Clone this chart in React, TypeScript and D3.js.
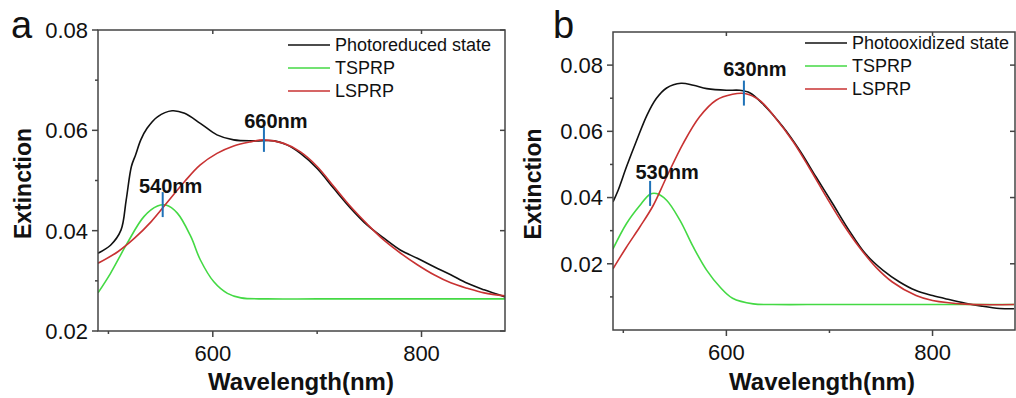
import React from "react";
import * as d3 from "d3";

// ---------- Panel a data ----------
const aBlackWl = [490, 502, 512, 517, 522, 526, 531, 537, 547, 561, 573, 588, 604, 620, 640, 659, 671, 684, 700, 716, 732, 748, 764, 780, 796, 812, 828, 844, 860, 880];
const aBlackVal = [0.0355, 0.0371, 0.0401, 0.0461, 0.0528, 0.0551, 0.0581, 0.0604, 0.0627, 0.0639, 0.0634, 0.0614, 0.0591, 0.0581, 0.0579, 0.0579, 0.0571, 0.0554, 0.0524, 0.0484, 0.0445, 0.0411, 0.0385, 0.0361, 0.0345, 0.0328, 0.0312, 0.0295, 0.0282, 0.0268];
const aRedWl = [490, 509, 525, 541, 557, 573, 588, 604, 620, 636, 649, 668, 684, 700, 716, 732, 748, 764, 780, 796, 812, 828, 844, 860, 880];
const aRedVal = [0.0335, 0.0358, 0.0385, 0.0418, 0.0458, 0.0498, 0.0531, 0.0554, 0.0569, 0.0577, 0.0581, 0.0574, 0.0557, 0.0528, 0.0488, 0.0448, 0.0413, 0.0381, 0.0355, 0.0332, 0.0312, 0.0296, 0.0285, 0.0276, 0.027];
const aGreenWl = [490, 502, 518, 534, 547, 555, 566, 579, 588, 601, 614, 627, 652, 700, 800, 880];
const aGreenVal = [0.0276, 0.0315, 0.0375, 0.0428, 0.0449, 0.0451, 0.0435, 0.0388, 0.0342, 0.0298, 0.0275, 0.0266, 0.0264, 0.0264, 0.0264, 0.0264];
const aYTicks = [0.02, 0.04, 0.06, 0.08];
const aYMinor = [0.03, 0.05, 0.07];
const aPeaks = [
  { wl: 552, val: 0.0451, label: "540nm" },
  { wl: 649, val: 0.0581, label: "660nm" },
];
const aLegend = ["Photoreduced state", "TSPRP", "LSPRP"];

// ---------- Panel b data ----------
const bBlackWl = [490, 495, 503, 513, 523, 532, 542, 556, 568, 581, 600, 613, 623, 635, 655, 671, 687, 703, 719, 735, 752, 768, 784, 800, 816, 832, 848, 865, 879];
const bBlackVal = [0.0387, 0.0422, 0.0492, 0.0573, 0.0649, 0.0699, 0.0731, 0.0745, 0.0739, 0.0729, 0.0724, 0.0724, 0.0716, 0.0684, 0.0613, 0.0543, 0.0462, 0.0382, 0.0301, 0.023, 0.018, 0.0145, 0.0119, 0.0104, 0.0092, 0.0081, 0.0072, 0.0065, 0.0064];
const bRedWl = [490, 503, 516, 529, 542, 558, 574, 590, 606, 618, 632, 648, 665, 681, 697, 713, 729, 745, 761, 784, 800, 832, 879];
const bRedVal = [0.0185, 0.025, 0.0311, 0.0376, 0.0462, 0.0563, 0.0644, 0.0694, 0.0712, 0.0714, 0.0694, 0.0639, 0.0568, 0.0487, 0.0402, 0.0321, 0.025, 0.019, 0.0145, 0.0104, 0.0089, 0.0078, 0.0077];
const bGreenWl = [490, 503, 516, 526, 532, 542, 555, 568, 581, 594, 606, 626, 645, 700, 800, 879];
const bGreenVal = [0.0245, 0.0321, 0.0376, 0.041, 0.0412, 0.0392, 0.0331, 0.025, 0.018, 0.0129, 0.0096, 0.0079, 0.0077, 0.0077, 0.0077, 0.0077];
const bYTicks = [0.02, 0.04, 0.06, 0.08];
const bYMinor = [0.01, 0.03, 0.05, 0.07];
const bPeaks = [
  { wl: 526, val: 0.0411, label: "530nm" },
  { wl: 617, val: 0.0714, label: "630nm" },
];
const bLegend = ["Photooxidized state", "TSPRP", "LSPRP"];

const xMajor = [600, 800];
const xMinor = [500, 700];

const BLACK = "#111";
const GREEN = "#44d944";
const RED = "#c83232";
const BLUE = "#1f72b8";
const AXIS = "#444";
const FONT = "'Liberation Sans', Arial, sans-serif";

type Peak = { wl: number; val: number; label: string };
type PanelProps = {
  left: number; right: number; top: number; bottom: number;
  yDomain: [number, number];
  yTicks: number[]; yMinor: number[];
  series: { wl: number[]; val: number[]; color: string }[];
  peaks: Peak[];
  peakLabelDy: number[];
  peakLabelDx: number[];
  legend: string[];
  legendX: number; legendY: number;
  letter: string; letterX: number;
  yTitleX: number; xTitleX: number;
};

function Panel(p: PanelProps) {
  const x = d3.scaleLinear().domain([490, 880]).range([p.left, p.right]);
  const y = d3.scaleLinear().domain(p.yDomain).range([p.bottom, p.top]);
  const line = d3
    .line<[number, number]>()
    .x((d) => x(d[0]))
    .y((d) => y(d[1]))
    .curve(d3.curveCatmullRom.alpha(0.5));
  const colors = [BLACK, GREEN, RED];
  const clipId = "clip" + p.letter;
  return (
    <g fontFamily={FONT}>
      <defs>
        <clipPath id={clipId}>
          <rect x={p.left} y={p.top} width={p.right - p.left} height={p.bottom - p.top} />
        </clipPath>
      </defs>
      <g clipPath={`url(#${clipId})`}>
        {p.series.map((s, i) => (
          <path
            key={i}
            d={line(s.wl.map((w, j) => [w, s.val[j]] as [number, number])) || ""}
            fill="none"
            stroke={s.color}
            strokeWidth={1.6}
          />
        ))}
      </g>
      {/* peak markers */}
      {p.peaks.map((pk, i) => (
        <g key={i}>
          <line x1={x(pk.wl)} x2={x(pk.wl)} y1={y(pk.val) - 13} y2={y(pk.val) + 12} stroke={BLUE} strokeWidth={2} />
          <text
            x={x(pk.wl) + p.peakLabelDx[i]}
            y={y(pk.val) + p.peakLabelDy[i]}
            textAnchor="middle"
            fontWeight="bold"
            fontSize={20}
            fill="#111"
          >
            {pk.label}
          </text>
        </g>
      ))}
      {/* frame */}
      <rect x={p.left} y={p.top} width={p.right - p.left} height={p.bottom - p.top} fill="none" stroke={AXIS} strokeWidth={1.5} />
      {/* y ticks */}
      {p.yTicks.map((t) => (
        <g key={"y" + t}>
          <line x1={p.left - 6} x2={p.left} y1={y(t)} y2={y(t)} stroke={AXIS} strokeWidth={1.5} />
          <line x1={p.right - 5} x2={p.right} y1={y(t)} y2={y(t)} stroke={AXIS} strokeWidth={1.5} />
          <text x={p.left - 10} y={y(t)} dy="0.36em" textAnchor="end" fontSize={22} fill="#111">
            {d3.format(".2f")(t)}
          </text>
        </g>
      ))}
      {p.yMinor.map((t) => (
        <line key={"ym" + t} x1={p.left - 3} x2={p.left} y1={y(t)} y2={y(t)} stroke={AXIS} strokeWidth={1.5} />
      ))}
      {/* x ticks */}
      {xMajor.map((t) => (
        <g key={"x" + t}>
          <line x1={x(t)} x2={x(t)} y1={p.bottom} y2={p.bottom + 6} stroke={AXIS} strokeWidth={1.5} />
          <line x1={x(t)} x2={x(t)} y1={p.top} y2={p.top + 4} stroke={AXIS} strokeWidth={1.5} />
          <text x={x(t)} y={p.bottom + 30} textAnchor="middle" fontSize={22} fill="#111">
            {t}
          </text>
        </g>
      ))}
      {xMinor.map((t) => (
        <line key={"xm" + t} x1={x(t)} x2={x(t)} y1={p.bottom} y2={p.bottom + 3} stroke={AXIS} strokeWidth={1.5} />
      ))}
      {/* titles */}
      <text
        transform={`translate(${p.yTitleX},${(p.top + p.bottom) / 2 + 3}) rotate(-90)`}
        textAnchor="middle"
        fontWeight="bold"
        fontSize={23}
        fill="#111"
      >
        Extinction
      </text>
      <text x={p.xTitleX} y={390} textAnchor="middle" fontWeight="bold" fontSize={24} fill="#111">
        Wavelength(nm)
      </text>
      <text x={p.letterX} y={38} fontSize={38} fill="#111">
        {p.letter}
      </text>
      {/* legend */}
      {p.legend.map((l, i) => (
        <g key={l}>
          <line x1={p.legendX} x2={p.legendX + 42} y1={p.legendY + i * 23} y2={p.legendY + i * 23} stroke={colors[i]} strokeWidth={1.6} />
          <text x={p.legendX + 47} y={p.legendY + i * 23} dy="0.36em" fontSize={18} fill="#111">
            {l}
          </text>
        </g>
      ))}
    </g>
  );
}

export default function App() {
  return (
    <svg
      width={1016}
      height={398}
      style={{ position: "absolute", left: 0, top: 0, background: "#fff" }}
    >
      <rect width={1016} height={398} fill="#fff" />
      <Panel
        left={98} right={505} top={30} bottom={331}
        yDomain={[0.02, 0.08]}
        yTicks={aYTicks} yMinor={aYMinor}
        series={[
          { wl: aBlackWl, val: aBlackVal, color: BLACK },
          { wl: aGreenWl, val: aGreenVal, color: GREEN },
          { wl: aRedWl, val: aRedVal, color: RED },
        ]}
        peaks={aPeaks}
        peakLabelDy={[-12, -12]}
        peakLabelDx={[8, 12]}
        legend={aLegend}
        legendX={288} legendY={45}
        letter="a" letterX={11}
        yTitleX={31} xTitleX={301}
      />
      <Panel
        left={613} right={1015} top={32} bottom={330}
        yDomain={[0, 0.09]}
        yTicks={bYTicks} yMinor={bYMinor}
        series={[
          { wl: bBlackWl, val: bBlackVal, color: BLACK },
          { wl: bGreenWl, val: bGreenVal, color: GREEN },
          { wl: bRedWl, val: bRedVal, color: RED },
        ]}
        peaks={bPeaks}
        peakLabelDy={[-15, -18]}
        peakLabelDx={[17, 11]}
        legend={bLegend}
        legendX={805} legendY={43}
        letter="b" letterX={553}
        yTitleX={541} xTitleX={822}
      />
    </svg>
  );
}
